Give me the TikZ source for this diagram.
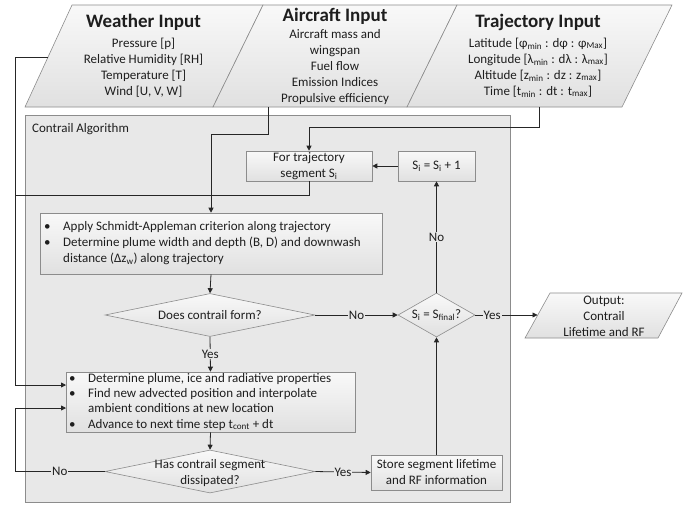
\documentclass[tikz,border=0pt]{standalone}
\usepackage{fontspec}
\setmainfont{Carlito}
\usetikzlibrary{shapes.geometric,arrows.meta,calc}
\definecolor{bord}{HTML}{8C8C8C}
\definecolor{cont}{HTML}{E8E8E8}
\definecolor{ink}{HTML}{1E1E1E}
\newcommand{\sbx}[1]{\textsubscript{#1}}
\begin{document}
\begin{tikzpicture}[x=1pt,y=-1pt,
  font=\fontsize{13}{16}\selectfont, text=ink,
  shadefill/.style={top color=gray!5, bottom color=gray!24},
  box/.style={draw=bord, line width=0.6pt, shadefill, inner sep=0pt, align=center},
  dia/.style={draw=bord, line width=0.6pt, shadefill, diamond, inner sep=0pt},
  para/.style={draw=bord, line width=0.6pt, shadefill},
  conn/.style={draw=black!85, line width=0.8pt},
  arr/.style={conn, -{Triangle[length=5pt,width=5pt]}},
  lbl/.style={fill=cont, inner sep=1pt},
  title/.style={font=\fontsize{19}{22}\selectfont\bfseries},
  txt/.style={align=center, inner sep=0pt},
]
\useasboundingbox (0,0) rectangle (687,504);

% Input parallelograms
\path[para] (25,107) -- (72,5) -- (263,5) -- (213,107) -- cycle;
\path[para] (213,107) -- (263,5) -- (457,5) -- (407,107) -- cycle;
\path[para] (407,107) -- (457,5) -- (672,5) -- (622,107) -- cycle;

\node[title] (wT) at (143.5,22) {Weather Input};
\node[txt] (wB) at (143.5,67.5) {Pressure [p]\\Relative Humidity [RH]\\Temperature [T]\\Wind [U, V, W]};
\node[title] (aT) at (335,16) {Aircraft Input};
\node[txt] (aB) at (335,67) {Aircraft mass and\\wingspan\\Fuel flow\\Emission Indices\\Propulsive efficiency};
\node[title] (tT) at (538,22) {Trajectory Input};
\node[txt] (tB) at (538,67.5) {Latitude [φ\sbx{min} : dφ : φ\sbx{Max}]\\Longitude [λ\sbx{min} : dλ : λ\sbx{max}]\\Altitude [z\sbx{min} : dz : z\sbx{max}]\\Time [t\sbx{min} : dt : t\sbx{max}]};

\coordinate (wOut) at (48,57);
\coordinate (aOut) at (268,107);
\coordinate (tOut) at (539,107);

% Container
\node[draw=bord, fill=cont, line width=0.6pt, minimum width=485pt, minimum height=387pt, inner sep=0pt] (alg) at (267.5,308.5) {};
\node[anchor=west, inner sep=0pt] (algT) at (32,129) {Contrail Algorithm};

% Boxes
\node[box, minimum width=126pt, minimum height=30pt] (for) at (309,166) {For trajectory\\segment S\sbx{i}};
\node[box, minimum width=77pt, minimum height=30pt] (inc) at (436.5,166) {S\sbx{i} = S\sbx{i} + 1};
\node[box, minimum width=342pt, minimum height=61pt] (sch) at (211,243.5) {};
\node[anchor=west, inner sep=0pt] (schT) at (44,243.5) {\begin{tabular}{@{}p{19pt}@{}l@{}}\textbullet & Apply Schmidt-Appleman criterion along trajectory\\ \textbullet & Determine plume width and depth (B, D) and downwash\\ & distance (Δz\sbx{w}) along trajectory\end{tabular}};

\node[box, minimum width=289pt, minimum height=60pt] (det) at (210.5,402) {};
\node[anchor=west, inner sep=0pt] (detT) at (69,402) {\fontsize{13}{15.3}\selectfont\begin{tabular}{@{}p{19pt}@{}l@{}}\textbullet & Determine plume, ice and radiative properties\\ \textbullet & Find new advected position and interpolate\\ & ambient conditions at new location\\ \textbullet & Advance to next time step t\sbx{cont} + dt\end{tabular}};

\node[dia, minimum width=210pt, minimum height=43pt] (d1) at (210,315) {};
\node[txt] (d1T) at (210,315) {Does contrail form?};
\node[dia, minimum width=77pt, minimum height=44pt] (d2) at (436.5,315) {};
\node[txt] (d2T) at (436.5,315) {S\sbx{i} = S\sbx{final}?};
\node[dia, minimum width=210pt, minimum height=43pt] (d3) at (210,471.5) {};
\node[txt] (d3T) at (210,473) {Has contrail segment\\dissipated?};

\node[box, minimum width=131pt, minimum height=35pt] (st) at (436.5,472.5) {Store segment lifetime\\and RF information};

% Output
\path[para] (525,338) -- (550,293) -- (682,293) -- (658,338) -- cycle;
\node[txt] (outT) at (604,316) {Output:\\Contrail\\Lifetime and RF};
\coordinate (outIn) at (537.5,315);

% Connectors
\coordinate (j1) at (15,195);
\coordinate (detIn1) at (66,385);
\coordinate (detIn2) at (66,408);
\draw[arr] (tOut) -- ++(0,20) -| (for.north);
\draw[arr] (aOut) -- ++(0,27) -| (sch.north);
\draw[arr] (inc.west) -- (for.east);
\draw[arr] (wOut) -- (15,57) |- (detIn1);
\draw[conn] (for.south) |- (j1);
\draw[arr] (sch.south) -- (d1.north);
\draw[arr] (d1.east) -- node[lbl]{No} (d2.west);
\draw[arr] (d2.north) -- node[lbl]{No} (inc.south);
\draw[arr] (d2.east) -- node[lbl,pos=0.27]{Yes} (outIn);
\draw[arr] (d1.south) -- node[lbl]{Yes} (det.north);
\draw[arr] (det.south) -- (d3.north);
\draw[arr] (d3.west) -- node[lbl]{No} (15,471.5) |- (detIn2);
\draw[arr] (d3.east) -- node[lbl]{Yes} (st.west);
\draw[arr] (st.north) -- (d2.south);
\end{tikzpicture}
\end{document}
